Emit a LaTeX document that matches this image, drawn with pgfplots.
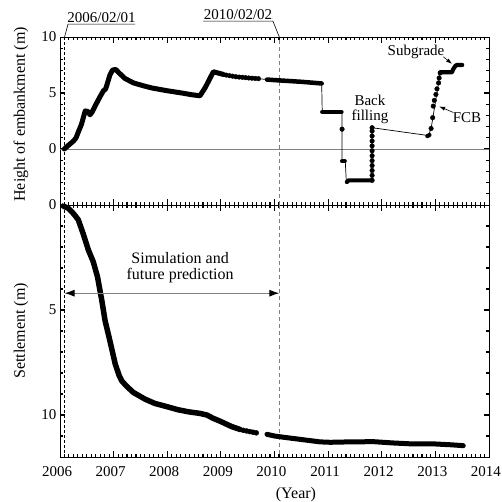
\documentclass[border=0pt]{standalone}
\usepackage{pgfplots}
\pgfplotsset{compat=1.18}
\usepackage{fontspec}
\setmainfont{Liberation Serif}
\usetikzlibrary{arrows.meta}
\tikzset{tk/.style={black, line width=1.1pt}}
\pgfplotsset{
  thickline/.style={black, line width=5pt, line join=round, line cap=round},
  thinline/.style={black, line width=0.7pt},
  beads/.style={only marks, mark=*, mark size=2.3pt, black},
}
\pgfplotstableread{
x y
2006.08 0.0
2006.15 0.3
2006.25 0.7
2006.30 1.0
2006.34 1.5
2006.40 2.2
2006.47 3.4
2006.52 3.35
2006.56 3.05
2006.60 3.3
2006.65 3.8
2006.75 4.7
2006.81 5.2
2006.85 5.35
2006.88 5.8
2006.93 6.6
2006.98 7.05
2007.04 7.1
2007.10 6.8
2007.21 6.3
2007.37 5.9
2007.55 5.65
2007.71 5.45
2008.00 5.2
2008.27 5.0
2008.45 4.85
2008.61 4.75
2008.71 5.5
2008.86 6.9
2009.05 6.65
}\hA
\pgfplotstableread{
x y
2009.10 6.6
2009.16 6.55
2009.22 6.5
2009.28 6.45
2009.34 6.42
2009.40 6.4
2009.46 6.37
2009.52 6.34
2009.58 6.32
2009.64 6.3
2009.70 6.28
2011.26 1.77
2011.82 -2.8
2011.82 -2.36
2011.82 -1.92
2011.82 -1.48
2011.82 -1.04
2011.82 -0.6
2011.82 -0.16
2011.82 0.28
2011.82 0.72
2011.82 1.16
2011.82 1.6
2011.82 1.9
2012.92 1.83
2012.95 2.8
2012.96 3.83
2012.98 4.34
2013.01 4.87
2013.03 5.37
2013.06 5.9
2013.07 6.34
2013.09 6.79
}\hBeads
\pgfplotstableread{
x y
2009.05 6.65
2009.70 6.28
2009.86 6.2
2010.88 5.85
2010.89 3.3
2011.26 3.3
2011.26 -1.1
2011.32 -1.1
2011.34 -3.0
2011.38 -2.8
2011.82 -2.8
2011.82 1.9
2012.87 1.2
2012.92 1.83
2013.09 6.79
}\hThin
\pgfplotstableread{
x y
2009.86 6.2
2010.00 6.15
2010.50 6.0
2010.88 5.85
}\hC
\pgfplotstableread{
x y
2010.89 3.3
2011.25 3.3
}\hD
\pgfplotstableread{
x y
2011.26 -1.1
2011.31 -1.1
}\hDD
\pgfplotstableread{
x y
2011.35 -2.95
2011.38 -2.8
2011.82 -2.8
}\hE
\pgfplotstableread{
x y
2012.85 1.15
2012.89 1.25
}\hG
\pgfplotstableread{
x y
2013.09 6.85
2013.31 6.85
2013.33 7.1
2013.37 7.4
2013.40 7.5
2013.50 7.5
}\hI
\pgfplotstableread{
x y
2006.06 0.05
2006.15 0.15
2006.22 0.32
2006.28 0.5
2006.34 0.7
2006.43 1.35
2006.53 2.15
2006.62 2.7
2006.70 3.43
2006.78 4.55
2006.84 5.5
2006.93 6.46
2007.03 7.57
2007.10 8.1
2007.15 8.37
2007.25 8.65
2007.37 8.93
2007.59 9.25
2007.77 9.45
2007.99 9.6
2008.20 9.75
2008.40 9.85
2008.60 9.92
2008.74 10.0
2008.85 10.15
2008.99 10.3
2009.20 10.55
2009.36 10.69
}\sA
\pgfplotstableread{
x y
2009.42 10.73
2009.48 10.76
2009.54 10.79
2009.60 10.82
2009.66 10.85
}\sBeads
\pgfplotstableread{
x y
2009.86 10.92
2010.00 11.0
2010.20 11.07
2010.48 11.16
2010.85 11.28
2011.04 11.3
2011.40 11.28
2011.85 11.27
2012.20 11.33
2012.59 11.38
2013.00 11.38
2013.30 11.42
2013.52 11.46
}\sC
\begin{document}
\begin{tikzpicture}
\path[use as bounding box] (0pt,0pt) rectangle (502pt,502pt);
\begin{axis}[scale only axis, width=429pt, height=168pt,
  at={(60pt,297pt)}, anchor=south west,
  xmin=2006, xmax=2014, ymin=-5, ymax=10,
  xtick={2006,2007,...,2014}, xticklabels={},
  ytick={-5,0,5,10}, yticklabels={,0,5,10},
  tick align=inside, major tick length=5pt,
  tick style={draw=none},
  axis line style={line width=0.9pt},
  tick label style={font=\fontsize{15}{17}\selectfont},
  /pgf/number format/assume math mode=true,
  clip=false,
  ylabel={Height of embankment (m)},
  every axis y label/.style={at={(axis description cs:-0.091,0.54)}, rotate=90, anchor=center, font=\fontsize{16}{18}\selectfont},
]
% axis ticks
\pgfplotsinvokeforeach{1,...,95}{
  \draw[tk] (axis cs:{2006+#1/12},-5) -- ++(0pt,3pt);
  \draw[tk] (axis cs:{2006+#1/12},10) -- ++(0pt,-3pt);
}
\pgfplotsinvokeforeach{2007,...,2013}{
  \draw[tk] (axis cs:#1,-5) -- ++(0pt,6pt);
  \draw[tk] (axis cs:#1,10) -- ++(0pt,-6pt);
}
\pgfplotsinvokeforeach{-4,...,9}{
  \draw[tk] (axis cs:2006,#1) -- ++(3pt,0pt);
  \draw[tk] (axis cs:2014,#1) -- ++(-3pt,0pt);
}
\pgfplotsinvokeforeach{0,5}{
  \draw[tk] (axis cs:2006,#1) -- ++(5pt,0pt);
  \draw[tk] (axis cs:2014,#1) -- ++(-5pt,0pt);
}
\draw[gray, line width=0.7pt] (axis cs:2006,0) -- (axis cs:2014,0);
\draw[black, line width=0.8pt, dash pattern=on 3pt off 2pt] (axis cs:2006.085,-5) -- (axis cs:2006.085,10);
\draw[gray, line width=0.8pt, dash pattern=on 4pt off 3pt] (axis cs:2010.09,-5) -- (axis cs:2010.09,10);
\addplot[thinline] table {\hThin};
\addplot[thickline] table {\hA};
\addplot[thickline, line width=4.5pt] table {\hC};
\addplot[thickline, line width=4.2pt] table {\hD};
\addplot[thickline, line width=4.2pt] table {\hDD};
\addplot[thickline, line width=4.2pt] table {\hE};
\addplot[thickline, line width=4.2pt] table {\hG};
\addplot[thickline, line width=4.2pt] table {\hI};
\addplot[beads] table {\hBeads};
% date labels
\draw[black, line width=0.6pt] (axis cs:2006.085,10) -- (axis cs:2006.15,11.15) -- (axis cs:2007.40,11.15);
\node[anchor=south, inner sep=1pt, font=\fontsize{15}{17}\selectfont] at (axis cs:2006.775,11.15) {2006/02/01};
\draw[black, line width=0.6pt] (axis cs:2010.09,10) -- (axis cs:2009.97,11.42) -- (axis cs:2008.67,11.42);
\node[anchor=south, inner sep=1pt, font=\fontsize{15}{17}\selectfont] at (axis cs:2009.32,11.42) {2010/02/02};
% annotations
\node[font=\fontsize{15}{17}\selectfont] at (axis cs:2012.64,8.67) {Subgrade};
\draw[black, line width=0.6pt, -{Latex[length=6pt,width=4pt]}] (axis cs:2013.15,8.23) -- (axis cs:2013.31,7.6);
\node[font=\fontsize{15}{17}\selectfont] at (axis cs:2013.59,2.83) {FCB};
\draw[black, line width=0.6pt, -{Latex[length=6pt,width=4pt]}] (axis cs:2013.33,3.27) -- (axis cs:2013.07,3.8);
\node[font=\fontsize{15}{15}\selectfont, align=center] at (axis cs:2011.78,3.5) {Back\\filling};
\end{axis}
\begin{axis}[scale only axis, width=429pt, height=252pt,
  at={(60pt,45pt)}, anchor=south west,
  xmin=2006, xmax=2014, ymin=0, ymax=12, y dir=reverse,
  xtick={2006,2007,...,2014}, ytick={0,5,10},
  tick align=inside, major tick length=5pt,
  tick style={draw=none},
  axis line style={line width=0.9pt},
  tick label style={font=\fontsize{15}{17}\selectfont},
  xticklabel shift=6pt,
  xticklabel style={xshift=-3pt},
  /pgf/number format/assume math mode=true,
  /pgf/number format/1000 sep={},
  clip=false,
  xlabel={(Year)}, ylabel={Settlement (m)},
  every axis y label/.style={at={(axis description cs:-0.091,0.5)}, rotate=90, anchor=center, font=\fontsize{16}{18}\selectfont},
  every axis x label/.style={at={(axis description cs:0.55,-0.15)}, anchor=center, font=\fontsize{16}{18}\selectfont},
]
% axis ticks
\pgfplotsinvokeforeach{1,...,95}{
  \draw[tk] (axis cs:{2006+#1/12},12) -- ++(0pt,3pt);
  \draw[tk] (axis cs:{2006+#1/12},0) -- ++(0pt,-3pt);
}
\pgfplotsinvokeforeach{2007,...,2013}{
  \draw[tk] (axis cs:#1,12) -- ++(0pt,6pt);
  \draw[tk] (axis cs:#1,0) -- ++(0pt,-6pt);
}
\pgfplotsinvokeforeach{1,...,11}{
  \draw[tk] (axis cs:2006,#1) -- ++(3pt,0pt);
  \draw[tk] (axis cs:2014,#1) -- ++(-3pt,0pt);
}
\pgfplotsinvokeforeach{5,10}{
  \draw[tk] (axis cs:2006,#1) -- ++(5pt,0pt);
  \draw[tk] (axis cs:2014,#1) -- ++(-5pt,0pt);
}
\draw[black, line width=0.8pt, dash pattern=on 3pt off 2pt] (axis cs:2006.085,0) -- (axis cs:2006.085,12);
\draw[gray, line width=0.8pt, dash pattern=on 4pt off 3pt] (axis cs:2010.09,0) -- (axis cs:2010.09,12);
\addplot[thickline, line width=5.5pt] table {\sA};
\addplot[thinline] table {\sBeads};
\addplot[beads, mark size=2.5pt] table {\sBeads};
\addplot[thickline, line width=5pt] table {\sC};
\draw[gray, line width=0.9pt, {Latex[color=black,length=10pt,width=7pt]}-{Latex[color=black,length=10pt,width=7pt]}] (axis cs:2006.085,4.2) -- (axis cs:2010.09,4.2);
\node[font=\fontsize{16}{16}\selectfont, align=center] at (axis cs:2008.24,2.97) {Simulation and\\ future prediction};
\end{axis}
\end{tikzpicture}
\end{document}
